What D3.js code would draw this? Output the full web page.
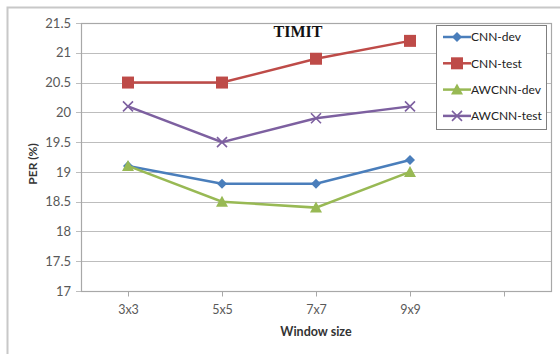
<!DOCTYPE html>
<html>
<head>
<meta charset="utf-8">
<script src="https://cdn.jsdelivr.net/npm/d3@7"></script>
<style>
  body { margin: 0; background: #fff; }
  svg { display: block; }
</style>
</head>
<body>
<div id="chart"></div>
<script>
// categories (last slot is an empty category, as in the original Excel chart)
const categories = ['3x3', '5x5', '7x7', '9x9', ''];
const yTicks = [17, 17.5, 18, 18.5, 19, 19.5, 20, 20.5, 21, 21.5];

const cnnDev = [19.1, 18.8, 18.8, 19.2];
const cnnTest = [20.5, 20.5, 20.9, 21.2];
const awcnnDev = [19.1, 18.5, 18.4, 19.0];
const awcnnTest = [20.1, 19.5, 19.9, 20.1];

const series = [
  { name: 'CNN-dev', values: cnnDev, color: '#4A7EBB', marker: 'diamond' },
  { name: 'CNN-test', values: cnnTest, color: '#BE4B48', marker: 'square' },
  { name: 'AWCNN-dev', values: awcnnDev, color: '#98B954', marker: 'triangle' },
  { name: 'AWCNN-test', values: awcnnTest, color: '#7D60A0', marker: 'x' }
];

const width = 560, height = 354;
const margin = { top: 23, right: 9, bottom: 63, left: 81 };
const fontSans = 'Lato, "Open Sans", "Liberation Sans", sans-serif';

const svg = d3.select('#chart').append('svg')
  .attr('width', width)
  .attr('height', height);

// outer chart frame
svg.append('rect')
  .attr('x', 7.5).attr('y', 7.5)
  .attr('width', width + 10).attr('height', height + 10)
  .attr('fill', '#fff')
  .attr('stroke', '#c8c8c8')
  .attr('stroke-width', 2);

const x = d3.scalePoint()
  .domain(categories)
  .range([margin.left, width - margin.right])
  .padding(0.5);

const y = d3.scaleLinear()
  .domain([17, 21.5])
  .range([height - margin.bottom, margin.top]);

// gridlines
svg.append('g')
  .selectAll('line')
  .data(yTicks)
  .join('line')
  .attr('x1', margin.left - 5)
  .attr('x2', width - margin.right)
  .attr('y1', d => Math.round(y(d)) + 0.5)
  .attr('y2', d => Math.round(y(d)) + 0.5)
  .attr('stroke', '#bdbdbd')
  .attr('stroke-width', 1);

// plot area border
svg.append('rect')
  .attr('x', margin.left + 0.5)
  .attr('y', Math.round(y(21.5)) + 0.5)
  .attr('width', width - margin.right - margin.left)
  .attr('height', Math.round(y(17)) - Math.round(y(21.5)))
  .attr('fill', 'none')
  .attr('stroke', '#a8a8a8')
  .attr('stroke-width', 1.2);

// y axis labels
const yAxis = d3.axisLeft(y)
  .tickValues(yTicks)
  .tickSize(0)
  .tickPadding(10)
  .tickFormat(d3.format('~g'));
svg.append('g')
  .attr('transform', `translate(${margin.left},0)`)
  .call(yAxis)
  .call(g => g.select('.domain').remove())
  .call(g => g.selectAll('text')
    .attr('font-family', fontSans)
    .attr('font-size', 13)
    .attr('fill', '#595959'));

// x axis
const xAxis = d3.axisBottom(x).tickSize(5).tickPadding(9);
svg.append('g')
  .attr('transform', `translate(0,${Math.round(y(17)) + 0.5})`)
  .call(xAxis)
  .call(g => g.select('.domain').remove())
  .call(g => g.selectAll('line').attr('stroke', '#a8a8a8'))
  .call(g => g.selectAll('text')
    .attr('font-family', fontSans)
    .attr('font-size', 12.5)
    .attr('fill', '#595959'));

// axis titles
svg.append('text')
  .attr('x', 316).attr('y', 336)
  .attr('text-anchor', 'middle')
  .attr('font-family', fontSans)
  .attr('font-weight', 'bold')
  .attr('font-size', 12.5)
  .attr('fill', '#333')
  .text('Window size');

svg.append('text')
  .attr('transform', 'translate(37,164) rotate(-90)')
  .attr('text-anchor', 'middle')
  .attr('font-family', fontSans)
  .attr('font-weight', 'bold')
  .attr('font-size', 12)
  .attr('fill', '#333')
  .text('PER (%)');

// title
svg.append('text')
  .attr('x', 298).attr('y', 37)
  .attr('text-anchor', 'middle')
  .attr('font-family', '"Liberation Serif", "DejaVu Serif", serif')
  .attr('font-weight', 'bold')
  .attr('font-size', 16)
  .attr('fill', '#111')
  .text('TIMIT');

// marker drawing
function drawMarker(g, type, color, cx, cy) {
  if (type === 'diamond') {
    g.append('path')
      .attr('d', `M${cx},${cy - 5}L${cx + 5},${cy}L${cx},${cy + 5}L${cx - 5},${cy}Z`)
      .attr('fill', color);
  } else if (type === 'square') {
    g.append('rect')
      .attr('x', cx - 6).attr('y', cy - 6)
      .attr('width', 12).attr('height', 12)
      .attr('fill', color);
  } else if (type === 'triangle') {
    g.append('path')
      .attr('d', `M${cx},${cy - 6}L${cx + 6},${cy + 5}L${cx - 6},${cy + 5}Z`)
      .attr('fill', color);
  } else {
    g.append('path')
      .attr('d', `M${cx - 5},${cy - 5}L${cx + 5},${cy + 5}M${cx - 5},${cy + 5}L${cx + 5},${cy - 5}`)
      .attr('stroke', color)
      .attr('stroke-width', 1.6)
      .attr('fill', 'none');
  }
}

const line = d3.line()
  .x((d, i) => x(categories[i]))
  .y(d => y(d));

series.forEach(s => {
  const g = svg.append('g');
  g.append('path')
    .datum(s.values)
    .attr('d', line)
    .attr('fill', 'none')
    .attr('stroke', s.color)
    .attr('stroke-width', 2.5);
  s.values.forEach((v, i) => drawMarker(g, s.marker, s.color, x(categories[i]), y(v)));
});

// legend
const legend = svg.append('g');
legend.append('rect')
  .attr('x', 436.5).attr('y', 25.5)
  .attr('width', 110).attr('height', 104)
  .attr('fill', '#fff')
  .attr('stroke', '#7f7f7f')
  .attr('stroke-width', 1);

series.forEach((s, i) => {
  const ly = 37 + i * 26.3;
  const g = legend.append('g');
  g.append('line')
    .attr('x1', 443).attr('x2', 471)
    .attr('y1', ly).attr('y2', ly)
    .attr('stroke', s.color)
    .attr('stroke-width', 2.5);
  drawMarker(g, s.marker, s.color, 457, ly);
  g.append('text')
    .attr('x', 471).attr('y', ly)
    .attr('dy', '0.35em')
    .attr('font-family', fontSans)
    .attr('font-size', 12)
    .attr('fill', '#222')
    .text(s.name);
});
</script>
</body>
</html>
